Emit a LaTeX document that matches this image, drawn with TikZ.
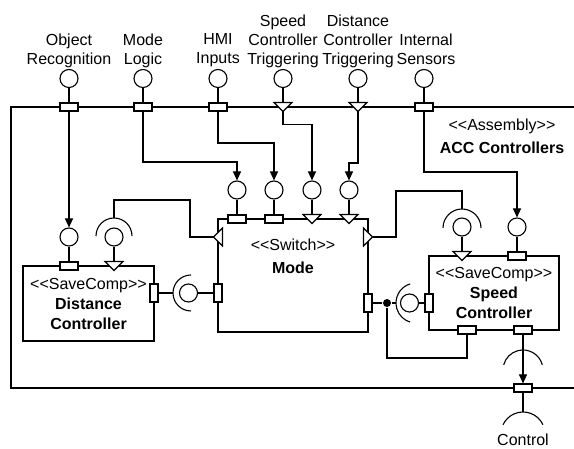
\documentclass[tikz,border=0pt]{standalone}
\usepackage{fontspec}
\setmainfont{Liberation Sans}[Ligatures=TeXOff]
\usetikzlibrary{arrows.meta}

\newcommand{\stereo}[1]{\textless\kern0pt\textless#1\textgreater\kern0pt\textgreater}

\tikzset{
  port/.style={draw,fill=white,minimum width=18pt,minimum height=8pt,inner sep=0pt},
  vport/.style={port,minimum width=8pt,minimum height=18pt},
  iface/.style={draw,circle,minimum size=18pt,inner sep=0pt},
  comp/.style={draw,align=center,inner sep=0pt,font=\fontsize{16}{20}\selectfont},
  lbl/.style={align=center,inner sep=0pt},
  wire/.style={-{Triangle[length=9pt,width=8pt]}},
  dport/.pic={\draw[fill=white] (-9,4.5) -- (9,4.5) -- (0,-4.5) -- cycle;
    \coordinate (-in) at (0,4.5);
    \coordinate (-out) at (0,-4.5);}
}

\begin{document}
\begin{tikzpicture}[x=1pt,y=1pt,line width=1.1pt,font=\fontsize{16}{19}\selectfont]
\useasboundingbox (0,0) rectangle (574,449);

% assembly frame
\draw (574,342) -- (11,342) -- (11,61) -- (574,61);
\node[lbl] (asmT) at (502,323) {\stereo{Assembly}};
\node[lbl] (asmN) at (502,301) {\textbf{ACC Controllers}};

% outer ports
\node[port] (objrec) at (69,342) {};
\node[port] (modelog) at (143,342) {};
\node[port] (hmi) at (218,342) {};
\pic (sctrig) at (283,342) {dport};
\pic (dctrig) at (358,342) {dport};
\node[port] (intsens) at (424,342) {};

\node[iface] (objrecI) at (69,370.5) {};
\node[iface] (modelogI) at (143,370.5) {};
\node[iface] (hmiI) at (218,370.5) {};
\node[iface] (sctrigI) at (283,370.5) {};
\node[iface] (dctrigI) at (358,370.5) {};
\node[iface] (intsensI) at (424,370.5) {};
\draw (objrecI) -- (objrec);
\draw (modelogI) -- (modelog);
\draw (hmiI) -- (hmi);
\draw (sctrigI) -- (sctrig-in);
\draw (dctrigI) -- (dctrig-in);
\draw (intsensI) -- (intsens);

\node[lbl] (objrecL) at (69,398.5) {Object\\Recognition};
\node[lbl] (modelogL) at (143,398.5) {Mode\\Logic};
\node[lbl] (hmiL) at (218,398.5) {HMI\\Inputs};
\node[lbl] (sctrigL) at (283,408) {Speed\\Controller\\Triggering};
\node[lbl] (dctrigL) at (358,408) {Distance\\Controller\\Triggering};
\node[lbl] (intsensL) at (426,400.2) {Internal\\Sensors};

% mode switch
\node[draw,minimum width=150pt,minimum height=113pt,inner sep=0pt] (mode) at (293,173.5) {};
\node[lbl] (modeT) at (293,204) {\stereo{Switch}};
\node[lbl] (modeN) at (293,181) {\textbf{Mode}};
\node[port] (modeP1) at (237,230) {};
\node[port] (modeP2) at (274,230) {};
\pic (modeP3) at (312,230) {dport};
\pic (modeP4) at (349,230) {dport};
\node[iface] (modeI1) at (237,259) {};
\node[iface] (modeI2) at (274,259) {};
\node[iface] (modeI3) at (312,259) {};
\node[iface] (modeI4) at (349,259) {};
\draw (modeI1) -- (modeP1);
\draw (modeI2) -- (modeP2);
\draw (modeI3) -- (modeP3-in);
\draw (modeI4) -- (modeP4-in);
\pic[rotate=-90] (modeL) at (218,212) {dport};
\pic[rotate=90] (modeR) at (368,212) {dport};
\node[vport] (modeDP) at (218,156) {};
\node[vport] (modeSP) at (368,146) {};

\draw[wire] (modelog) -- ++(0,-55) -| (modeI1);
\draw[wire] (hmi) -- ++(0,-36) -| (modeI2);
\draw[wire] (sctrig-out) -- ++(0,-13) -| (modeI3);
\draw[wire] (dctrig-out) -- ++(0,-51.5) -| (modeI4);

% distance controller
\node[comp,minimum width=131pt,minimum height=75pt] (dist) at (88.5,145.5)
  {\stereo{SaveComp}\\\textbf{Distance}\\\textbf{Controller}};
\node[port] (distIn) at (69,183) {};
\pic (distTr) at (114,183) {dport};
\node[vport] (distOut) at (154,156) {};
\node[iface] (distInI) at (69,212) {};
\node[iface] (distTrI) at (114,212) {};
\draw (distInI) -- (distIn);
\draw (distTrI) -- (distTr-in);
\draw[wire] (objrec) -- (distInI);
\coordinate (distTrS) at (114,213);
\draw ([shift={(distTrS)}]0:18) arc[start angle=0,end angle=180,radius=18];
\draw (modeL-out) -| ++(-23.5,37) -| ([yshift=18pt]distTrS);
\node[iface] (distOutI) at (188.5,156) {};
\coordinate (distOutS) at (191,156);
\draw ([shift={(distOutS)}]90:18) arc[start angle=90,end angle=270,radius=18];
\draw (distOut) -- ([xshift=-18pt]distOutS);
\draw (distOutI) -- (modeDP);

% speed controller
\node[comp,minimum width=130pt,minimum height=74pt] (speed) at (494,156)
  {\stereo{SaveComp}\\\textbf{Speed}\\\textbf{Controller}};
\pic (spdTr) at (462,193) {dport};
\node[port] (spdIn) at (517,193) {};
\node[iface] (spdTrI) at (462,222) {};
\node[iface] (spdInI) at (517,222) {};
\draw (spdTrI) -- (spdTr-in);
\draw (spdInI) -- (spdIn);
\coordinate (spdTrS) at (462,221);
\draw ([shift={(spdTrS)}]0:19) arc[start angle=0,end angle=180,radius=19];
\draw (modeR-out) -| ++(23.5,46) -| ([yshift=19pt]spdTrS);
\draw[wire] (intsens) -- ++(0,-65) -| (spdInI);

\node[vport] (spdCP) at (429,146) {};
\node[iface] (spdCPI) at (409.5,146) {};
\coordinate (spdCPS) at (416,146);
\draw ([shift={(spdCPS)}]107:20) arc[start angle=107,end angle=253,radius=20];
\node[circle,fill,inner sep=0pt,minimum size=8pt] (junc) at (387,146) {};
\draw (modeSP) -- (junc) -- ([xshift=-20pt]spdCPS);
\draw (spdCPI) -- (spdCP);

\node[port] (spdFb) at (467,119) {};
\node[port] (spdOut) at (523,119) {};
\draw (junc) |- ++(80,-55) -- (spdFb);

% control output
\node[port] (ctrl) at (523,61) {};
\coordinate (spdOutS) at (523,79);
\draw ([shift={(spdOutS)}]15:20) arc[start angle=15,end angle=165,radius=20];
\draw[wire] (spdOut) -- (ctrl);
\coordinate (ctrlS) at (523,15);
\draw ([shift={(ctrlS)}]25:22) arc[start angle=25,end angle=155,radius=22];
\draw (ctrl) -- ([yshift=22pt]ctrlS);
\node[lbl] (ctrlL) at (523,9) {Control};
\end{tikzpicture}
\end{document}
